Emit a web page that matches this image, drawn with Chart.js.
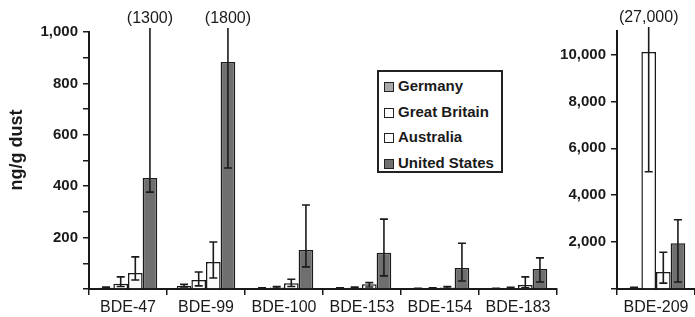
<!DOCTYPE html>
<html>
<head>
<meta charset="utf-8">
<script src="https://cdn.jsdelivr.net/npm/chart.js@4.4.1/dist/chart.umd.min.js"></script>
<style>
    html, body { margin: 0; padding: 0; background: #fff; }
    #wrap { position: relative; width: 695px; height: 317px; overflow: hidden; font-family: Arial, "Liberation Sans", sans-serif; }
    #leftBox { position: absolute; left: 0; top: 0; width: 560px; height: 317px; }
    #rightBox { position: absolute; left: 560px; top: 0; width: 135px; height: 317px; }
    #legenda { position: absolute; left: 377px; top: 70px; width: 122px; height: 98px; border: 2px solid #222;
               padding-top: 1px; font-weight: bold; font-size: 15px; color: #1a1a1a; background: #fff; }
    #legenda .item { height: 25.5px; line-height: 25.5px; padding-left: 5px; white-space: nowrap; }
    #legenda .box { display: inline-block; width: 8px; height: 8px; border: 1.5px solid #222; margin-right: 4px; vertical-align: -1px; }
</style>
</head>
<body>
<div id="wrap">
    <div id="leftBox"><canvas id="leftChart" width="560" height="317"></canvas></div>
    <div id="rightBox"><canvas id="rightChart" width="135" height="317"></canvas></div>
    <div id="legenda"></div>
</div>
<script>
// congeners on the left panel
const categories = ['BDE-47', 'BDE-99', 'BDE-100', 'BDE-153', 'BDE-154', 'BDE-183'];
const seriesNames = ['Germany', 'Great Britain', 'Australia', 'United States'];
const seriesColors = ['#a9a9a9', '#ffffff', '#fbfbfb', '#6f6f6f'];
const yTitle = 'ng/g dust';

const germany = [5, 12, 3, 3, 2, 2];
const germanyLow = [3, 8, 2, 2, 1, 1];
const germanyHigh = [8, 18, 5, 5, 3, 3];

const greatBritain = [20, 35, 6, 5, 3, 4];
const greatBritainLow = [10, 12, 3, 3, 2, 2];
const greatBritainHigh = [47, 66, 10, 8, 5, 7];

const australia = [62, 105, 22, 18, 6, 16];
const australiaLow = [35, 43, 10, 8, 3, 5];
const australiaHigh = [125, 183, 38, 25, 10, 47];

const unitedStates = [432, 883, 152, 141, 82, 78];
const unitedStatesLow = [377, 471, 86, 51, 31, 27];
const unitedStatesHigh = [1300, 1800, 327, 272, 178, 121];

// BDE-209 on its own scale
const categories209 = ['BDE-209'];
const values209 = [50, 10100, 730, 1950];
const low209 = [30, 5000, 250, 300];
const high209 = [70, 27000, 1570, 2950];

// step = generated ticks, keep = ticks that get a mark, label = ticks that get text
const leftTicks = { max: 1000, step: 100, keep: 100, label: 200 };
const rightTicks = { max: 11000, step: 1000, keep: 2000, label: 2000 };

document.addEventListener('DOMContentLoaded', function() {
    const fonte = 'Arial, "Liberation Sans", sans-serif';
    const tinta = '#1a1a1a';

    // error bars + "(value)" notes for whiskers that leave the axis
    const errorBarPlugin = {
        id: 'errorBars',
        afterDatasetsDraw(chart) {
            const ctx = chart.ctx;
            const yScale = chart.scales.y;
            const area = chart.chartArea;
            ctx.save();
            ctx.strokeStyle = tinta;
            ctx.lineWidth = 1.6;
            chart.data.datasets.forEach((ds, i) => {
                const meta = chart.getDatasetMeta(i);
                meta.data.forEach((bar, j) => {
                    const lo = ds.errLow[j];
                    const hi = ds.errHigh[j];
                    const x = bar.x;
                    const yLo = yScale.getPixelForValue(lo);
                    const fora = hi > yScale.max;
                    const yHi = fora ? area.top - 4 : yScale.getPixelForValue(hi);
                    ctx.beginPath();
                    ctx.moveTo(x, yLo);
                    ctx.lineTo(x, yHi);
                    ctx.moveTo(x - 4, yLo);
                    ctx.lineTo(x + 4, yLo);
                    if (!fora) {
                        ctx.moveTo(x - 4, yHi);
                        ctx.lineTo(x + 4, yHi);
                    }
                    ctx.stroke();
                    if (fora) {
                        const txt = hi >= 10000 ? hi.toLocaleString('en-US') : String(hi);
                        ctx.fillStyle = tinta;
                        ctx.font = '16px ' + fonte;
                        ctx.textAlign = 'center';
                        ctx.textBaseline = 'middle';
                        ctx.fillText('(' + txt + ')', x, area.top - 13);
                    }
                });
            });
            ctx.restore();
        }
    };

    // rotated axis title, sits a bit above the middle like the original
    const yTitlePlugin = {
        id: 'yTitle',
        afterDraw(chart) {
            const txt = chart.options.plugins.yTitle.text;
            if (!txt) return;
            const ctx = chart.ctx;
            ctx.save();
            ctx.translate(17, 150);
            ctx.rotate(-Math.PI / 2);
            ctx.fillStyle = tinta;
            ctx.font = 'bold 18px ' + fonte;
            ctx.textAlign = 'center';
            ctx.textBaseline = 'middle';
            ctx.fillText(txt, 0, 0);
            ctx.restore();
        }
    };

    function montarDatasets(valores, baixos, altos) {
        return seriesNames.map((nome, i) => ({
            label: nome,
            data: valores[i],
            errLow: baixos[i],
            errHigh: altos[i],
            backgroundColor: seriesColors[i],
            borderColor: tinta,
            borderWidth: 1.5,
            categoryPercentage: 0.75,
            barPercentage: 1.0
        }));
    }

    function criarGrafico(canvasId, labels, datasets, ticksCfg, opts) {
        const ctx = document.getElementById(canvasId).getContext('2d');
        return new Chart(ctx, {
            type: 'bar',
            data: { labels: labels, datasets: datasets },
            plugins: [errorBarPlugin, yTitlePlugin],
            options: {
                responsive: false,
                animation: false,
                layout: { padding: { top: opts.top, right: opts.right, left: 0, bottom: 0 } },
                plugins: { legend: { display: false }, tooltip: { enabled: false }, yTitle: { text: opts.title } },
                scales: {
                    x: {
                        grid: { drawOnChartArea: false, drawTicks: true, tickLength: 6, color: tinta, lineWidth: 1.5 },
                        border: { color: tinta, width: 2 },
                        ticks: { color: tinta, font: { family: fonte, size: 16 }, padding: 3, maxRotation: 0 },
                        afterFit: function(scale) { scale.height = 28; }
                    },
                    y: {
                        min: 0,
                        max: ticksCfg.max,
                        grid: { drawOnChartArea: false, drawTicks: true, tickLength: 6, color: tinta, lineWidth: 1.5 },
                        border: { color: tinta, width: 2 },
                        ticks: {
                            stepSize: ticksCfg.step,
                            maxTicksLimit: 30,
                            autoSkip: false,
                            padding: 5,
                            color: tinta,
                            font: { family: fonte, size: 15, weight: 'bold' },
                            callback: function(value) {
                                if (value === 0 || value % ticksCfg.label !== 0) return '';
                                return value.toLocaleString('en-US');
                            }
                        },
                        afterBuildTicks: function(scale) {
                            scale.ticks = scale.ticks.filter(t => t.value % ticksCfg.keep === 0);
                        },
                        afterFit: function(scale) { scale.width = opts.axisWidth; }
                    }
                }
            }
        });
    }

    criarGrafico('leftChart', categories,
        montarDatasets([germany, greatBritain, australia, unitedStates],
                       [germanyLow, greatBritainLow, australiaLow, unitedStatesLow],
                       [germanyHigh, greatBritainHigh, australiaHigh, unitedStatesHigh]),
        leftTicks, { top: 32, right: 3, axisWidth: 89, title: yTitle });

    criarGrafico('rightChart', categories209,
        montarDatasets(values209.map(v => [v]), low209.map(v => [v]), high209.map(v => [v])),
        rightTicks, { top: 31, right: 0, axisWidth: 57, title: '' });

    // legend box
    const legenda = document.getElementById('legenda');
    seriesNames.forEach((nome, i) => {
        const item = document.createElement('div');
        item.className = 'item';
        const box = document.createElement('span');
        box.className = 'box';
        box.style.background = seriesColors[i];
        item.appendChild(box);
        item.appendChild(document.createTextNode(nome));
        legenda.appendChild(item);
    });
});
</script>
</body>
</html>
